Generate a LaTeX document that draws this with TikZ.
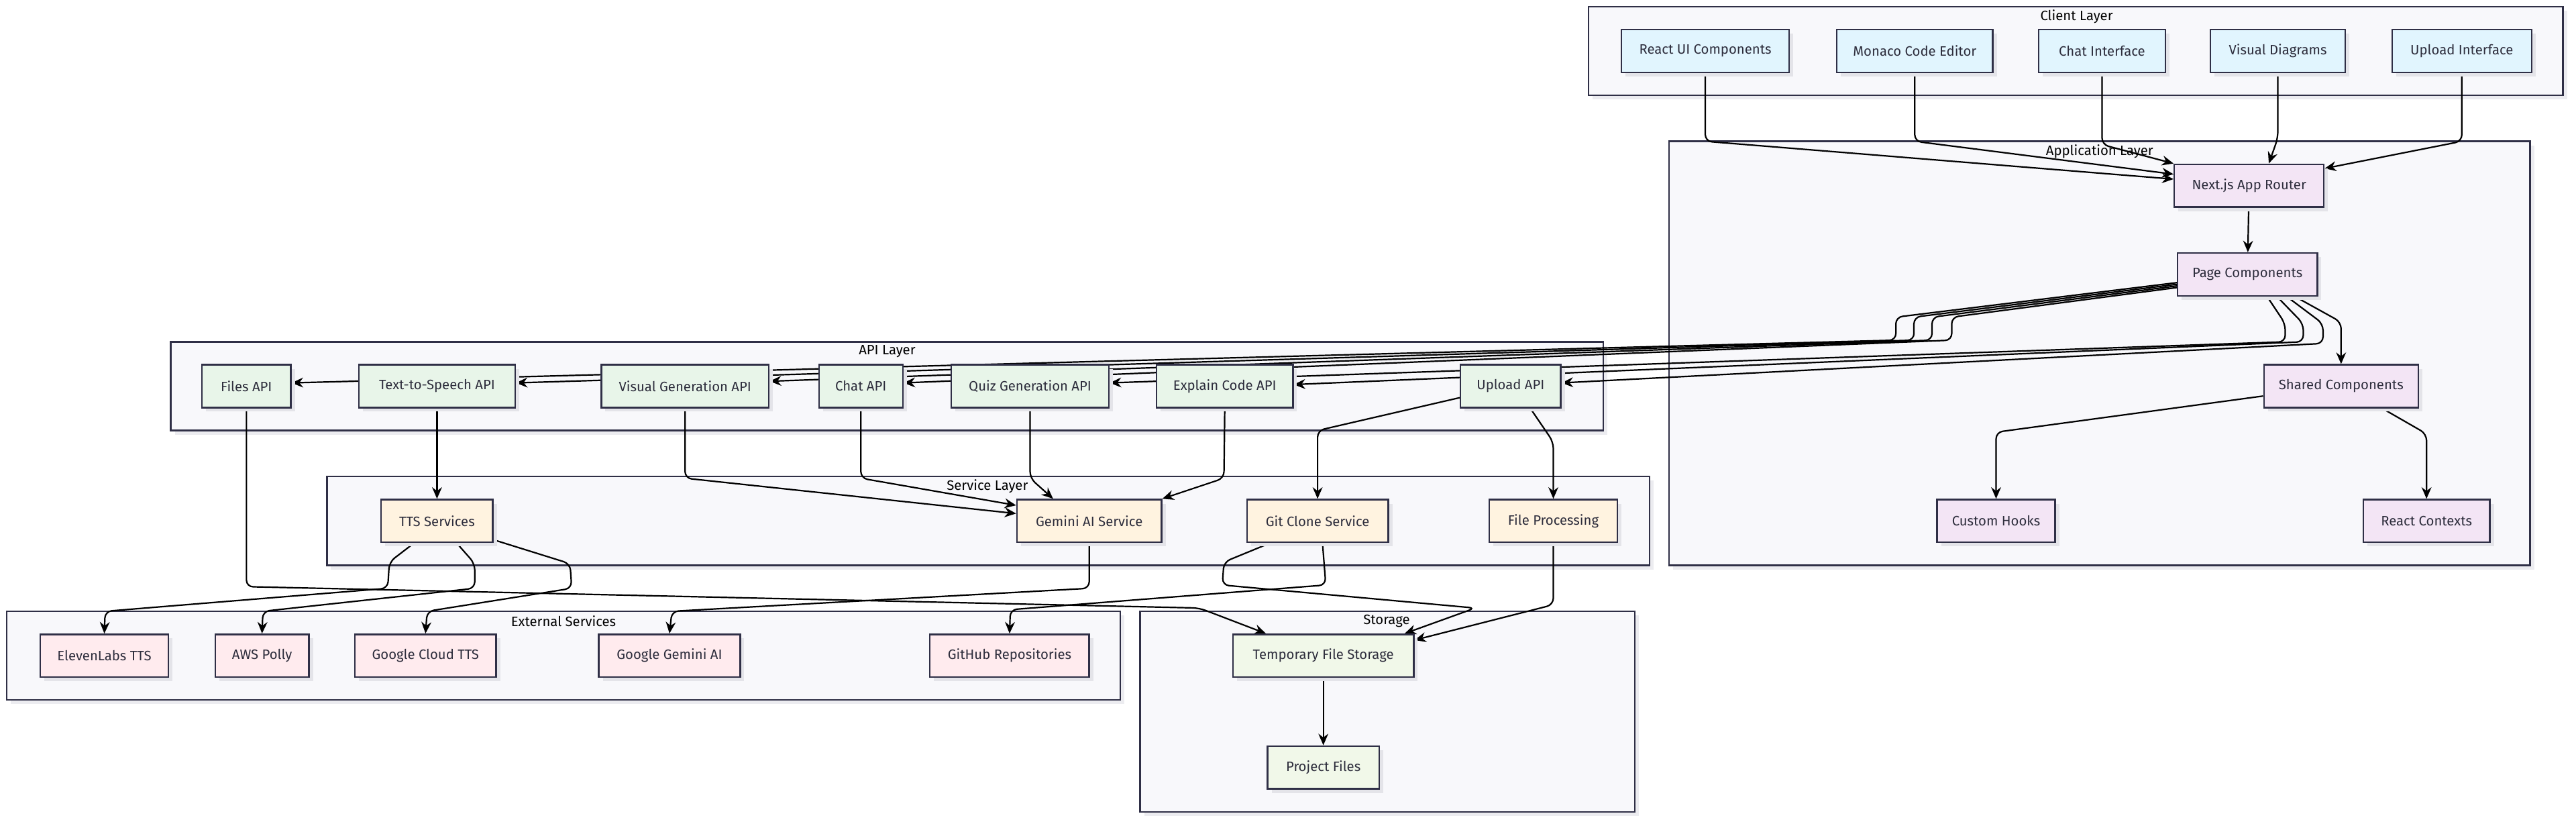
\documentclass[tikz,border=0pt]{standalone}
\usepackage{fontspec}
\setmainfont{Fira Sans}
\usetikzlibrary{arrows.meta,shadows}
\definecolor{lineDark}{RGB}{47,47,70}
\definecolor{textDark}{RGB}{45,45,60}
\definecolor{clusterBg}{RGB}{248,248,251}
\definecolor{shadowGray}{RGB}{228,228,233}
\definecolor{clientFill}{HTML}{E1F5FE}
\definecolor{appFill}{HTML}{F3E5F5}
\definecolor{apiFill}{HTML}{E8F5E9}
\definecolor{serviceFill}{HTML}{FFF3E0}
\definecolor{externalFill}{HTML}{FFEBEE}
\definecolor{storageFill}{HTML}{F1F8E9}
\pgfdeclarelayer{clusters}
\pgfdeclarelayer{edges}
\pgfsetlayers{clusters,edges,main}

\begin{document}
\begin{tikzpicture}[x=1pt, y=-1pt,
		basebox/.style={draw=lineDark, line width=1pt, minimum height=26pt, inner sep=0pt,
			font=\fontsize{8.3}{9.5}\selectfont, text=textDark,
			general shadow={fill=shadowGray, shadow xshift=2.5pt, shadow yshift=-2.5pt}},
		clientbox/.style={basebox, fill=clientFill},
		appbox/.style={basebox, fill=appFill},
		apibox/.style={basebox, fill=apiFill},
		servicebox/.style={basebox, fill=serviceFill},
		externalbox/.style={basebox, fill=externalFill},
		storagebox/.style={basebox, fill=storageFill},
		layerbox/.style={draw=lineDark, line width=1pt, fill=clusterBg,
			general shadow={fill=shadowGray!70, shadow xshift=2.5pt, shadow yshift=-2.5pt}},
		layerlabel/.style={font=\fontsize{8.3}{9.5}\selectfont, text=black},
		flow/.style={draw=black, line width=0.9pt, rounded corners=4pt, -{Stealth[length=7pt,width=6pt]}}]
	\useasboundingbox (0,0) rectangle (1568,500);

	% Layers (subgraphs)
	\begin{pgfonlayer}{clusters}
		\draw[layerbox] (967,4) rectangle (1560,58);   % client
		\draw[layerbox] (1016,86) rectangle (1540,344); % application
		\draw[layerbox] (104,208) rectangle (976,262);  % api
		\draw[layerbox] (199,290) rectangle (1004,344); % service
		\draw[layerbox] (4,372) rectangle (682,426);    % external
		\draw[layerbox] (694,372) rectangle (995,494);  % storage
	\end{pgfonlayer}
	\node[layerlabel] (clientlbl) at (1264,10) {Client Layer};
	\node[layerlabel] (applbl) at (1278,92) {Application Layer};
	\node[layerlabel] (apilbl) at (540,214) {API Layer};
	\node[layerlabel] (servicelbl) at (601,296) {Service Layer};
	\node[layerlabel] (externallbl) at (343,378) {External Services};
	\node[layerlabel] (storagelbl) at (844,378) {Storage};

	% Client Layer
	\node[clientbox, minimum width=102pt] (reactui) at (1038,31) {React UI Components};
	\node[clientbox, minimum width=95pt] (editor) at (1165.5,31) {Monaco Code Editor};
	\node[clientbox, minimum width=77pt] (chatui) at (1279.5,31) {Chat Interface};
	\node[clientbox, minimum width=82pt] (visualui) at (1386.5,31) {Visual Diagrams};
	\node[clientbox, minimum width=85pt] (uploadui) at (1498.5,31) {Upload Interface};

	% Application Layer
	\node[appbox, minimum width=91pt] (router) at (1369,113) {Next.js App Router};
	\node[appbox, minimum width=85pt] (pages) at (1368,167) {Page Components};
	\node[appbox, minimum width=94pt] (shared) at (1425,235) {Shared Components};
	\node[appbox, minimum width=72pt] (hooks) at (1215,317) {Custom Hooks};
	\node[appbox, minimum width=77pt] (contexts) at (1477,317) {React Contexts};

	% API Layer
	\node[apibox, minimum width=54pt] (filesapi) at (150,235) {Files API};
	\node[apibox, minimum width=95pt] (ttsapi) at (266,235) {Text-to-Speech API};
	\node[apibox, minimum width=102pt] (visapi) at (417,235) {Visual Generation API};
	\node[apibox, minimum width=51pt] (chatapi) at (524,235) {Chat API};
	\node[apibox, minimum width=96pt] (quizapi) at (627,235) {Quiz Generation API};
	\node[apibox, minimum width=83pt] (explainapi) at (745.5,235) {Explain Code API};
	\node[apibox, minimum width=61pt] (uploadapi) at (919.5,235) {Upload API};

	% Service Layer
	\node[servicebox, minimum width=68pt] (ttssvc) at (266,317) {TTS Services};
	\node[servicebox, minimum width=88pt] (gemsvc) at (663,317) {Gemini AI Service};
	\node[servicebox, minimum width=86pt] (gitsvc) at (802,317) {Git Clone Service};
	\node[servicebox, minimum width=78pt] (filesvc) at (945.5,317) {File Processing};

	% External Services
	\node[externalbox, minimum width=78pt] (eleven) at (63.5,399) {ElevenLabs TTS};
	\node[externalbox, minimum width=57pt] (polly) at (159.5,399) {AWS Polly};
	\node[externalbox, minimum width=86pt] (gcloud) at (259,399) {Google Cloud TTS};
	\node[externalbox, minimum width=86pt] (gemini) at (407.5,399) {Google Gemini AI};
	\node[externalbox, minimum width=97pt] (github) at (614.5,399) {GitHub Repositories};

	% Storage
	\node[storagebox, minimum width=110pt] (tmpstore) at (805.5,399) {Temporary File Storage};
	\node[storagebox, minimum width=68pt] (projfiles) at (805.5,467) {Project Files};

	\begin{pgfonlayer}{edges}
		% client to router
		\draw[flow] (reactui.south) -- (1038,86) -- ([yshift=4pt]router.west);
		\draw[flow] (editor.south) -- (1165.5,86) -- ([yshift=7pt]router.west);
		\draw[flow] (chatui.south) -- (1279.5,88) -- (router.north west);
		\draw[flow] (visualui.south) -- (1386.5,84) -- ([xshift=12pt]router.north);
		\draw[flow] (uploadui.south) -- (1498.5,86) -- ([yshift=-3pt]router.north east);
		\draw[flow] (router) -- (pages);

		% pages to the apis
		\draw[flow] ([yshift=-5pt]pages.west) -- (1154,193) -- (1154,207) -- ([yshift=2pt]filesapi.east);
		\draw[flow] ([yshift=-6pt]pages.west) -- (1165,193) -- (1165,207) -- ([yshift=2pt]ttsapi.east);
		\draw[flow] ([yshift=-7pt]pages.west) -- (1176,193) -- (1176,207) -- ([yshift=3pt]visapi.east);
		\draw[flow] ([yshift=-8pt]pages.west) -- (1188,193) -- (1188,207) -- ([yshift=2pt]chatapi.east);
		\draw[flow] ([xshift=12pt]pages.south) -- (1391,197) -- (1391,208) -- ([yshift=2pt]quizapi.east);
		\draw[flow] ([xshift=18pt]pages.south) -- (1402,197) -- (1402,208) -- ([yshift=1pt]explainapi.east);
		\draw[flow] ([xshift=24pt]pages.south) -- (1414,197) -- (1414,209) -- ([yshift=2pt]uploadapi.east);
		\draw[flow] ([xshift=29pt]pages.south) -- (1425,196) -- (shared.north);

		% shared components
		\draw[flow] ([yshift=-6pt]shared.west) -- (1215,263) -- (hooks.north);
		\draw[flow] ([xshift=25pt]shared.south) -- (1477,264) -- (contexts.north);

		% apis to services
		\draw[flow] (ttsapi) -- (ttssvc);
		\draw[flow] (visapi.south) -- (417,291) -- ([yshift=4.5pt]gemsvc.west);
		\draw[flow] (chatapi.south) -- (524,291) -- ([yshift=9.5pt]gemsvc.west);
		\draw[flow] (quizapi.south) -- (627,291) -- ([xshift=-22pt]gemsvc.north);
		\draw[flow] (explainapi.south) -- (745,291) -- (gemsvc.north east);
		\draw[flow] ([yshift=-7pt]uploadapi.west) -- (802,262) -- (gitsvc.north);
		\draw[flow] ([xshift=12pt]uploadapi.south) -- (945.5,269) -- (filesvc.north);
		\draw[flow] (filesapi.south) -- (150,357) -- (730,370) -- ([xshift=-35pt]tmpstore.north);

		% services to external services and storage
		\draw[flow] ([xshift=-14pt]ttssvc.south) -- (237,342) -- (236,358) -- (64,372) -- (eleven.north);
		\draw[flow] ([xshift=12pt]ttssvc.south) -- (289,343) -- (289,358) -- (160,372) -- (polly.north);
		\draw[flow] ([yshift=2pt]ttssvc.south east) -- (347,343) -- (348,358) -- (260,372) -- (gcloud.north);
		\draw[flow] (gemsvc.south) -- (663,358) -- (409,372) -- (gemini.north);
		\draw[flow] ([xshift=3pt]gitsvc.south) -- (807,356) -- (615,371) -- (github.north);
		\draw[flow] ([xshift=-29pt]gitsvc.south) -- (745,342) -- (744,356) -- (898,370) -- ([xshift=-6pt]tmpstore.north east);
		\draw[flow] (filesvc.south) -- (945.5,368) -- ([yshift=-4pt]tmpstore.north east);
		\draw[flow] (tmpstore) -- (projfiles);
	\end{pgfonlayer}
\end{tikzpicture}
\end{document}
